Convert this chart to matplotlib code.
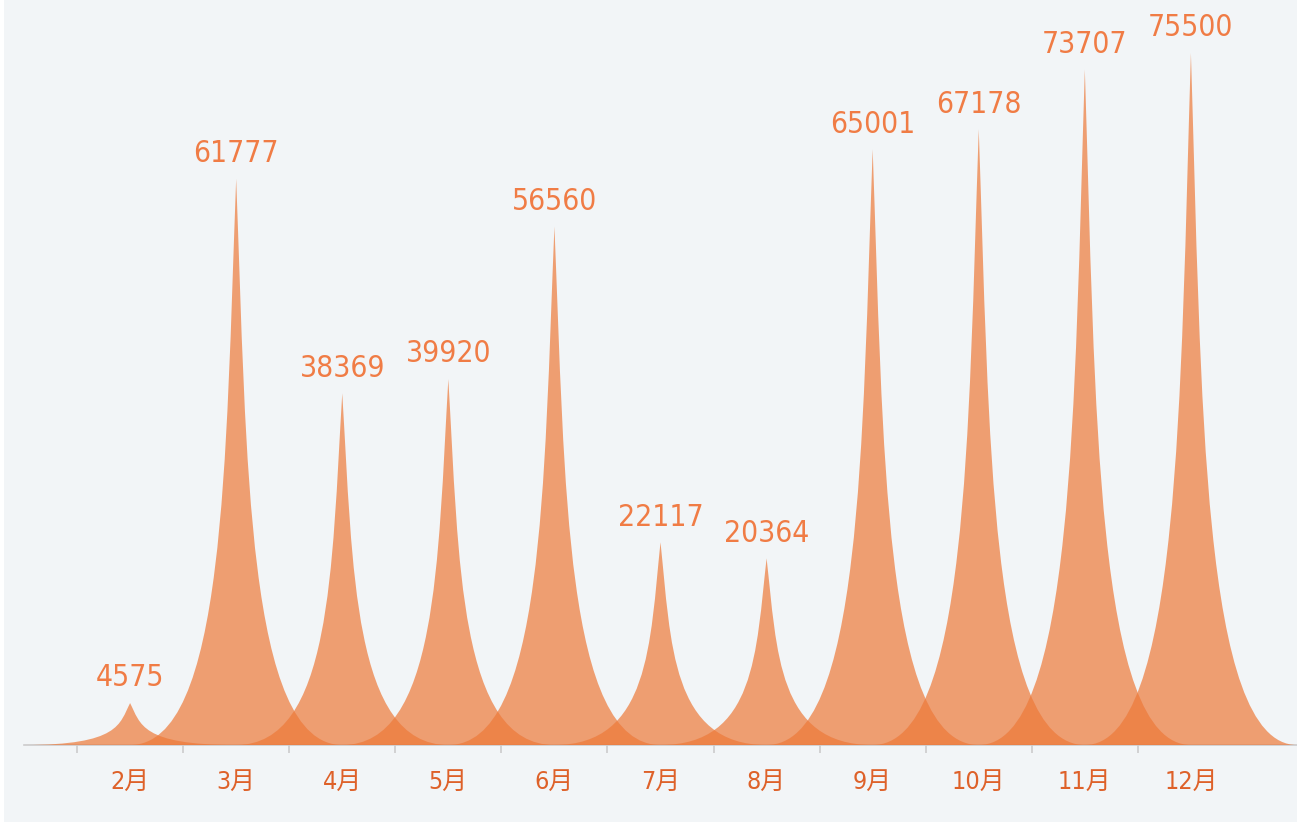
import matplotlib
matplotlib.use("Agg")
import matplotlib.pyplot as plt
from matplotlib.path import Path
from matplotlib.patches import PathPatch, Rectangle
from matplotlib import font_manager as fm

# ---- data ----
months = ["2月", "3月", "4月", "5月", "6月", "7月", "8月", "9月", "10月", "11月", "12月"]
values = [4575, 61777, 38369, 39920, 56560, 22117, 20364, 65001, 67178, 73707, 75500]

# ---- fonts: look for a narrow/condensed face ----
cands = [f for f in fm.fontManager.ttflist
         if ("Narrow" in f.fname or "Condensed" in f.fname)
         and "Bold" not in f.fname and "Oblique" not in f.fname and "Italic" not in f.fname]
pref = None
for key in ("LiberationSansNarrow-Regular", "DejaVuSansCondensed.", "Condensed"):
    for f in cands:
        if key in f.fname:
            pref = f
            break
    if pref:
        break

if pref is not None:
    num_kw = dict(family=[pref.name, "DejaVu Sans"], fontstretch=pref.stretch)
    cjk_kw = dict(family=[pref.name, "Noto Sans CJK SC", "DejaVu Sans"], fontstretch=pref.stretch)
else:
    num_kw = dict(family=["Roboto", "DejaVu Sans"])
    cjk_kw = dict(family=["Roboto", "Noto Sans CJK SC", "DejaVu Sans"])

BG = "#F2F5F7"
FILL = "#ED7939"
W, H = 1297, 822
fig = plt.figure(figsize=(W / 100, H / 100), dpi=100, facecolor=BG)
fig.patches.append(Rectangle((0, 0), 4 / W, 1, transform=fig.transFigure,
                             facecolor="white", edgecolor="none", zorder=-10))

ax = fig.add_axes([24 / W, 77 / H, 1273 / W, 745 / H])
ax.set_facecolor(BG)
ax.set_xlim(-1.0, 11.0)
ax.set_ylim(0, 81280)

half = 1.0  # half width of spike in category units
for i, v in enumerate(values):
    c = i
    verts = [
        (c - half, 0), (c + half, 0),
        (c + 0.1 * half, 0), (c + 0.1 * half, 0.5 * v), (c, v),
        (c - 0.1 * half, 0.5 * v), (c - 0.1 * half, 0), (c - half, 0),
        (c - half, 0),
    ]
    codes = [Path.MOVETO, Path.LINETO,
             Path.CURVE4, Path.CURVE4, Path.CURVE4,
             Path.CURVE4, Path.CURVE4, Path.CURVE4,
             Path.CLOSEPOLY]
    ax.add_patch(PathPatch(Path(verts, codes), facecolor=FILL, alpha=0.7,
                           edgecolor="none", zorder=2))
    ax.annotate(str(v), xy=(c, v), xytext=(0, 12), textcoords="offset points",
                ha="center", va="baseline", fontsize=21.5, color="#F07C45",
                zorder=5, **num_kw)

for s in ("left", "right", "top"):
    ax.spines[s].set_visible(False)
ax.spines["bottom"].set_color("#CCCCCC")
ax.spines["bottom"].set_linewidth(1.2)
ax.spines["bottom"].set_zorder(1)
ax.set_yticks([])

ax.set_xticks(range(len(months)))
ax.set_xticklabels(months, fontsize=18, color="#DE6129", **cjk_kw)
ax.tick_params(axis="x", which="major", length=0, pad=18)
ax.set_xticks([i - 0.5 for i in range(len(months))], minor=True)
ax.tick_params(axis="x", which="minor", length=6, width=1.2, color="#CCCCCC")

fig.savefig("out.png", dpi=100, facecolor=BG)
